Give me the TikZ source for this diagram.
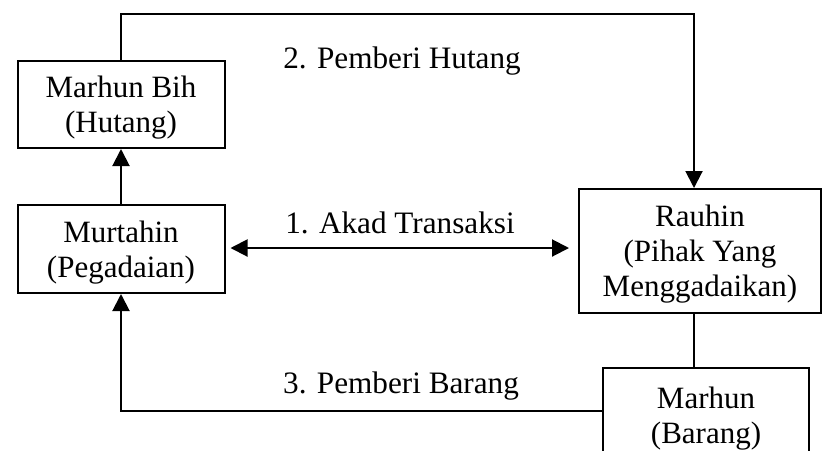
\documentclass[tikz,border=0pt]{standalone}
\usepackage{fontspec}
\setmainfont{Liberation Serif}
\usetikzlibrary{arrows.meta}
\tikzset{
    kotak/.style={draw, line width=1pt, align=center, inner sep=0pt, text depth=0pt,
        font=\fontsize{15.5}{17.5}\selectfont},
    teks/.style={anchor=base, inner sep=0pt, font=\fontsize{15.6}{17.5}\selectfont},
    panah/.style={line width=1pt, -{Triangle[length=8.5pt,width=8.5pt]}},
    panah dua/.style={line width=1pt, {Triangle[length=8.5pt,width=8.5pt]}-{Triangle[length=8.5pt,width=8.5pt]}},
}

\begin{document}
\begin{tikzpicture}[x=0.5pt, y=-0.5pt]
\clip (0,0) rectangle (822,450);
% kotak
\node[kotak, minimum width=103.5pt, minimum height=43.5pt] (bih) at (121,104.5) {Marhun Bih\\(Hutang)};
\node[kotak, minimum width=103.5pt, minimum height=44pt] (murtahin) at (121,249) {Murtahin\\(Pegadaian)};
\node[kotak, minimum width=121pt, minimum height=62pt] (rauhin) at (700,251) {Rauhin\\(Pihak Yang\\Menggadaikan)};
\node[kotak, text depth=, minimum width=103pt, minimum height=51pt] (marhun) at (706,419) {Marhun\\(Barang)};
\coordinate (atas) at (0,14);
\coordinate (bawah) at (0,411);
\coordinate (kanan atas) at ([xshift=-3pt]rauhin.north);
\coordinate (kanan bawah) at ([xshift=-3pt]rauhin.south);

% garis
\draw[panah] (murtahin.north) -- (bih.south);
\draw[panah] (bih.north) -- (bih.north |- atas) -| (kanan atas);
\draw[panah dua, shorten <=2.5pt, shorten >=4.5pt] (murtahin.east |- 0,248) -- (rauhin.west |- 0,248);
\draw[line width=1pt] (kanan bawah) -- (kanan bawah |- marhun.north);
\draw[panah] (marhun.west |- bawah) -| (murtahin.south);

% keterangan
\node[teks] (hutang) at (402,68) {2. Pemberi Hutang};
\node[teks] (akad) at (400,233) {1. Akad Transaksi};
\node[teks] (barang) at (401,393) {3. Pemberi Barang};
\end{tikzpicture}
\end{document}
